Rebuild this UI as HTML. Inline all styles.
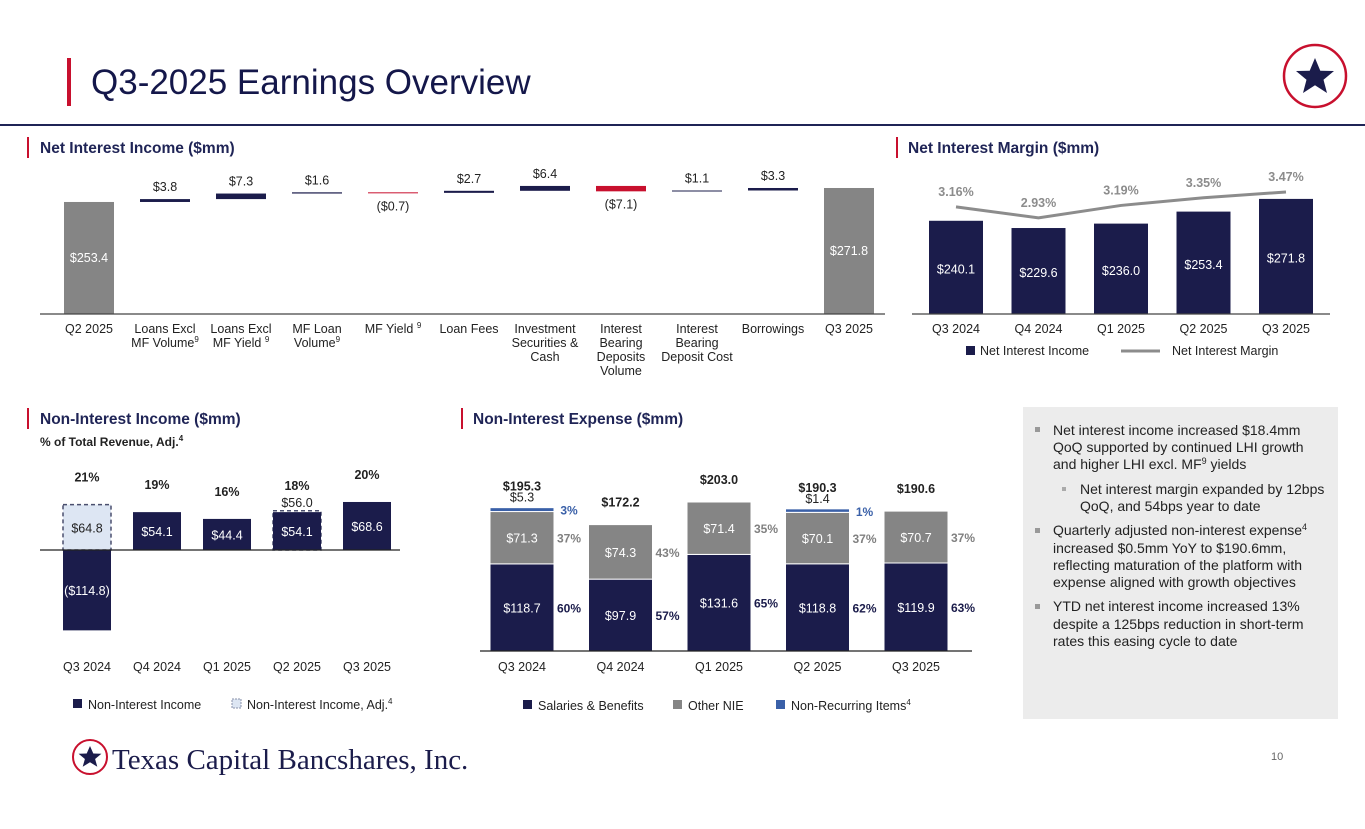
<!DOCTYPE html>
<html><head><meta charset="utf-8"><style>
body{margin:0;background:#fff;}
svg{display:block;font-family:"Liberation Sans",Arial,sans-serif;}
</style></head><body>
<svg id="s" width="1365" height="829" viewBox="0 0 1365 829">
<rect x="0" y="0" width="1365" height="829" fill="#fff"/>
<rect x="67" y="58" width="4" height="48" fill="#c8102e"/>
<text x="91" y="94" font-size="35" fill="#14174a">Q3-2025 Earnings Overview</text>
<rect x="0" y="124" width="1365" height="2" fill="#1f2456"/>
<g>
<circle cx="1315" cy="76" r="31" fill="#fff" stroke="#c8102e" stroke-width="2.5"/>
<polygon points="1315,58 1320.3,70.7 1334,71 1323.5,79.8 1327,93 1315,85.3 1303,93 1306.5,79.8 1296,71 1309.7,70.7" fill="#1b1c4b"/>
</g>
<rect x="27" y="137" width="2" height="21" fill="#c8102e"/>
<text x="40" y="153" font-size="15.5" font-weight="bold" fill="#1f2456">Net Interest Income ($mm)</text>
<rect x="896" y="137" width="2" height="21" fill="#c8102e"/>
<text x="908" y="153" font-size="15.5" font-weight="bold" fill="#1f2456">Net Interest Margin ($mm)</text>
<rect x="27" y="408" width="2" height="21" fill="#c8102e"/>
<text x="40" y="424" font-size="15.5" font-weight="bold" fill="#1f2456">Non-Interest Income ($mm)</text>
<text x="40" y="446" font-size="12" font-weight="bold" fill="#222">% of Total Revenue, Adj.<tspan font-size="8" dy="-5">4</tspan></text>
<rect x="461" y="408" width="2" height="21" fill="#c8102e"/>
<text x="473" y="424" font-size="15.5" font-weight="bold" fill="#1f2456">Non-Interest Expense ($mm)</text>

<g font-size="14" fill="#222">
<rect x="1023" y="407" width="315" height="312" fill="#ececec"/>
<rect x="1035" y="427" width="5" height="5" fill="#999"/>
<text x="1053" y="435">Net interest income increased $18.4mm</text>
<text x="1053" y="452">QoQ supported by continued LHI growth</text>
<text x="1053" y="469">and higher LHI excl. MF<tspan font-size="9" dy="-5">9</tspan><tspan dy="5"> yields</tspan></text>
<rect x="1062" y="487" width="4" height="4" fill="#aaa"/>
<text x="1080" y="494">Net interest margin expanded by 12bps</text>
<text x="1080" y="511">QoQ, and 54bps year to date</text>
<rect x="1035" y="528" width="5" height="5" fill="#999"/>
<text x="1053" y="535">Quarterly adjusted non-interest expense<tspan font-size="9" dy="-5">4</tspan></text>
<text x="1053" y="553">increased $0.5mm YoY to $190.6mm,</text>
<text x="1053" y="570">reflecting maturation of the platform with</text>
<text x="1053" y="587">expense aligned with growth objectives</text>
<rect x="1035" y="604" width="5" height="5" fill="#999"/>
<text x="1053" y="611">YTD net interest income increased 13%</text>
<text x="1053" y="629">despite a 125bps reduction in short-term</text>
<text x="1053" y="646">rates this easing cycle to date</text>
</g>

<g>
<circle cx="90" cy="757" r="17" fill="#fff" stroke="#c8102e" stroke-width="2"/>
<polygon points="90,746 93.3,753.5 101.4,753.7 95.1,759 97.3,766.8 90,762.3 82.7,766.8 84.9,759 78.6,753.7 86.7,753.5" fill="#1b1c4b"/>
<text x="112" y="769" font-family="'Liberation Serif',serif" font-size="29" fill="#1b1c4b">Texas Capital Bancshares, Inc.</text>
</g>
<text x="1271" y="760" font-size="11" fill="#666">10</text>
<g id="charts"></g>
</svg>
<script>
// ---- Waterfall data ----
const wfCats = ["Q2 2025","Loans Excl|MF Volume{9}","Loans Excl|MF Yield {9}","MF Loan|Volume{9}","MF Yield {9}","Loan Fees","Investment|Securities &|Cash","Interest|Bearing|Deposits|Volume","Interest|Bearing|Deposit Cost","Borrowings","Q3 2025"];
const wfStart = 253.4;
const wfDeltas = [3.8, 7.3, 1.6, -0.7, 2.7, 6.4, -7.1, 1.1, 3.3];
const wfEnd = 271.8;
// ---- NIM data ----
const nimCats = ["Q3 2024","Q4 2024","Q1 2025","Q2 2025","Q3 2025"];
const nimIncome = [240.1, 229.6, 236.0, 253.4, 271.8];
const nimMargin = [3.16, 2.93, 3.19, 3.35, 3.47];
// ---- Non-interest income ----
const niiCats = ["Q3 2024","Q4 2024","Q1 2025","Q2 2025","Q3 2025"];
const niiValues = [-114.8, 54.1, 44.4, 54.1, 68.6];
const niiAdj = [64.8, null, null, 56.0, null];
const niiPct = ["21%","19%","16%","18%","20%"];
// ---- Non-interest expense ----
const nieCats = ["Q3 2024","Q4 2024","Q1 2025","Q2 2025","Q3 2025"];
const nieSalaries = [118.7, 97.9, 131.6, 118.8, 119.9];
const nieOther = [71.3, 74.3, 71.4, 70.1, 70.7];
const nieNonRec = [5.3, 0, 0, 1.4, 0];
const nieSalPct = ["60%","57%","65%","62%","63%"];
const nieOthPct = ["37%","43%","35%","37%","37%"];
const nieNrPct = ["3%","","","1%",""];

const NS="http://www.w3.org/2000/svg";
const root=document.getElementById('charts');
function mk(tag,attrs,parent){const e=document.createElementNS(NS,tag);for(const k in attrs)e.setAttribute(k,attrs[k]);(parent||root).appendChild(e);return e;}
function fmt(v){return v<0?"($"+Math.abs(v).toFixed(1)+")":"$"+v.toFixed(1);}
function supText(t,str){const parts=str.split(/\{(\d)\}/);parts.forEach((p,i)=>{if(!p)return;const ts=document.createElementNS(NS,'tspan');ts.textContent=p;if(i%2===1){ts.setAttribute('font-size','8');ts.setAttribute('dy','-5');}else if(i>0){ts.setAttribute('dy','5');}t.appendChild(ts);});}
function catLabel(x,y,str,name){const lines=str.split('|');lines.forEach((l,i)=>{const t=mk('text',{x:x,y:y+i*14,'font-size':12.5,fill:'#222','text-anchor':'middle'});

supText(t,l);});}
const NAVY="#1b1c4b",GRAY="#858585",RED="#c8102e",BLUE="#3a60a8";

// ===== Waterfall =====
const wfX=i=>89+i*76;
const wfY=v=>314-(v-106)*0.76;
[[0,wfStart],[wfCats.length-1,wfEnd]].forEach(([i,v])=>{
 let b=mk('rect',{x:wfX(i)-25,y:wfY(v),width:50,height:314-wfY(v),fill:GRAY});
 
 
 let t=mk('text',{x:wfX(i),y:(wfY(v)+314)/2+4,'font-size':12.5,fill:'#fff','text-anchor':'middle'});t.textContent=fmt(v);
 
 
});
let a=mk('line',{x1:40,x2:885,y1:314,y2:314,stroke:'#444','stroke-width':1.2});


let cum=wfStart;
wfDeltas.forEach((d,k)=>{const i=k+1;const y1=wfY(cum),y2=wfY(cum+d);const top=Math.min(y1,y2);const h=Math.max(Math.abs(y1-y2),1);
 let b=mk('rect',{x:wfX(i)-25,y:top,width:50,height:h,fill:d<0?RED:NAVY});
 
 
 let t=mk('text',{x:wfX(i),y:d<0?top+h+17:top-8,'font-size':12.5,fill:'#222','text-anchor':'middle'});t.textContent=fmt(d);
 
 
 cum+=d;});
wfCats.forEach((c,i)=>catLabel(wfX(i),333,c,'waterfall-category-label'));

// ===== NIM =====
const nimX=i=>956+i*82.5;
const nimY=v=>314-(v-105)*0.69;
const mY=m=>192-(m-3.47)*48;
nimIncome.forEach((v,i)=>{
 let b=mk('rect',{x:nimX(i)-27,y:nimY(v),width:54,height:314-nimY(v),fill:NAVY});
 
 
 let t=mk('text',{x:nimX(i),y:(nimY(v)+314)/2+6,'font-size':12.5,fill:'#fff','text-anchor':'middle'});t.textContent=fmt(v);
 
 
 let c=mk('text',{x:nimX(i),y:333,'font-size':12.5,fill:'#222','text-anchor':'middle'});c.textContent=nimCats[i];
 
 
});
a=mk('line',{x1:912,x2:1330,y1:314,y2:314,stroke:'#444','stroke-width':1.2});


let pl=mk('polyline',{points:nimMargin.map((m,i)=>nimX(i)+','+mY(m)).join(' '),fill:'none',stroke:'#8c8c8c','stroke-width':3});


nimMargin.forEach((m,i)=>{let t=mk('text',{x:nimX(i),y:mY(m)-11,'font-size':12.5,'font-weight':'bold',fill:'#8c8c8c','text-anchor':'middle'});t.textContent=m.toFixed(2)+'%';
 
 });
let lg=mk('rect',{x:966,y:346,width:9,height:9,fill:NAVY});


let lt=mk('text',{x:980,y:355,'font-size':12.5,fill:'#222'});lt.textContent='Net Interest Income';


lg=mk('line',{x1:1121,x2:1160,y1:351,y2:351,stroke:'#8c8c8c','stroke-width':3});


lt=mk('text',{x:1172,y:355,'font-size':12.5,fill:'#222'});lt.textContent='Net Interest Margin';



// ===== Non-interest income =====
const niX=i=>87+i*70;
const niY=v=>550-v*0.70;
niiValues.forEach((v,i)=>{
 const adj=niiAdj[i];
 if(adj!==null){let d=mk('rect',{x:niX(i)-24,y:niY(adj),width:48,height:550-niY(adj),fill:v<0?'#dde6f3':'none',stroke:'#4a4f6e','stroke-width':1.5,'stroke-dasharray':'4,3'});
  
  }
 const top=Math.min(niY(v),550),h=Math.abs(niY(v)-550);
 let b=mk('rect',{x:niX(i)-24,y:top,width:48,height:h,fill:NAVY});
 
 
 let t=mk('text',{x:niX(i),y:top+h/2+5,'font-size':12.5,fill:'#fff','text-anchor':'middle'});t.textContent=fmt(v);
 
 
 if(v<0&&adj!==null){let ta=mk('text',{x:niX(i),y:(niY(adj)+550)/2+5,'font-size':12.5,fill:'#222','text-anchor':'middle'});ta.textContent=fmt(adj);
  
  }
 else if(adj!==null){let ta=mk('text',{x:niX(i),y:niY(adj)-4,'font-size':12.5,fill:'#222','text-anchor':'middle'});ta.textContent=fmt(adj);
  
  }
 const hi=Math.max(v,adj||0);
 let p=mk('text',{x:niX(i),y:niY(hi)-(adj!==null&&v>0?21:23),'font-size':12.5,'font-weight':'bold',fill:'#222','text-anchor':'middle'});p.textContent=niiPct[i];
 
 
 let c=mk('text',{x:niX(i),y:671,'font-size':12.5,fill:'#222','text-anchor':'middle'});c.textContent=niiCats[i];
 
 
});
a=mk('line',{x1:40,x2:400,y1:550,y2:550,stroke:'#222','stroke-width':1.2});


lg=mk('rect',{x:73,y:699,width:9,height:9,fill:NAVY});


lt=mk('text',{x:88,y:709,'font-size':12.5,fill:'#222'});lt.textContent='Non-Interest Income';


lg=mk('rect',{x:232,y:699,width:9,height:9,fill:'#dde6f3',stroke:'#8890aa','stroke-dasharray':'2,1'});


lt=mk('text',{x:247,y:709,'font-size':12.5,fill:'#222'});lt.textContent='Non-Interest Income, Adj.';


let sp=document.createElementNS(NS,'tspan');sp.setAttribute('font-size','8');sp.setAttribute('dy','-5');sp.textContent='4';lt.appendChild(sp);

// ===== Non-interest expense =====
const neX=i=>522+i*98.5;
const neH=v=>v*0.734;
const BASE=651;
nieCats.forEach((c,i)=>{
 const x0=neX(i)-32,w=64;
 const ySal=BASE-neH(nieSalaries[i]);
 const yOth=ySal-neH(nieOther[i]);
 let b=mk('rect',{x:x0,y:ySal,width:w,height:neH(nieSalaries[i]),fill:NAVY,stroke:'#fff','stroke-width':1});
 
 
 b=mk('rect',{x:x0,y:yOth,width:w,height:neH(nieOther[i]),fill:GRAY,stroke:'#fff','stroke-width':1});
 
 
 let top=yOth;
 if(nieNonRec[i]>0){const h=Math.max(neH(nieNonRec[i]),3.5);top=yOth-h;
  b=mk('rect',{x:x0,y:top,width:w,height:h,fill:BLUE,stroke:'#fff','stroke-width':1});
  
  
  let t=mk('text',{x:neX(i),y:top-6,'font-size':12.5,fill:'#222','text-anchor':'middle'});t.textContent=fmt(nieNonRec[i]);
  
  
  t=mk('text',{x:neX(i)+47,y:top+7,'font-size':12,'font-weight':'bold',fill:BLUE,'text-anchor':'middle'});t.textContent=nieNrPct[i];
  
  }
 const total=nieSalaries[i]+nieOther[i]+nieNonRec[i];
 let tt=mk('text',{x:neX(i),y:top-(nieNonRec[i]>0?17:18),'font-size':12.5,'font-weight':'bold',fill:'#222','text-anchor':'middle'});tt.textContent=fmt(total);
 
 
 let t1=mk('text',{x:neX(i),y:(ySal+BASE)/2+5,'font-size':12.5,fill:'#fff','text-anchor':'middle'});t1.textContent=fmt(nieSalaries[i]);
 
 
 let t2=mk('text',{x:neX(i),y:(ySal+yOth)/2+5,'font-size':12.5,fill:'#fff','text-anchor':'middle'});t2.textContent=fmt(nieOther[i]);
 
 
 let p1=mk('text',{x:neX(i)+47,y:(ySal+BASE)/2+5,'font-size':12,'font-weight':'bold',fill:NAVY,'text-anchor':'middle'});p1.textContent=nieSalPct[i];
 
 
 let p2=mk('text',{x:neX(i)+47,y:(ySal+yOth)/2+5,'font-size':12,'font-weight':'bold',fill:'#808080','text-anchor':'middle'});p2.textContent=nieOthPct[i];
 
 
 let cl=mk('text',{x:neX(i),y:671,'font-size':12.5,fill:'#222','text-anchor':'middle'});cl.textContent=c;
 
 
});
a=mk('line',{x1:480,x2:972,y1:BASE,y2:BASE,stroke:'#222','stroke-width':1.2});


[[523,NAVY,'Salaries & Benefits'],[673,GRAY,'Other NIE'],[776,BLUE,'Non-Recurring Items']].forEach(([x,col,txt])=>{
 let s=mk('rect',{x:x,y:700,width:9,height:9,fill:col});
 
 
 let t=mk('text',{x:x+15,y:710,'font-size':12.5,fill:'#222'});t.textContent=txt;
 
 
 if(txt.indexOf('Non-Rec')===0){let s4=document.createElementNS(NS,'tspan');s4.setAttribute('font-size','8');s4.setAttribute('dy','-5');s4.textContent='4';t.appendChild(s4);}
});
</script>
</body></html>
